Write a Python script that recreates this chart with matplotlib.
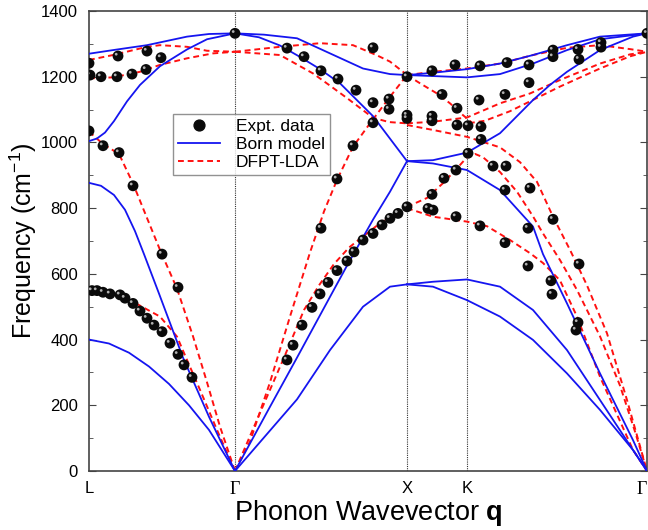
import matplotlib.pyplot as plt
from matplotlib.lines import Line2D
from matplotlib.ticker import MultipleLocator
from matplotlib.transforms import offset_copy

plt.rcParams['font.family'] = ['Liberation Sans', 'DejaVu Sans']
plt.rcParams['mathtext.fontset'] = 'custom'
plt.rcParams['mathtext.rm'] = 'Liberation Sans'
plt.rcParams['mathtext.bf'] = 'Liberation Sans:bold'

# path coordinate along L - Γ - X - K - Γ (arb. units)
sym_pos = [0, 146, 318, 378, 558]
sym_lbl = ['L', 'Γ', 'X', 'K', 'Γ']

# Born model branches: (q, frequency in cm^-1)
born_LG_TA = ([0, 20, 40, 60, 80, 100, 120, 146], [400, 388, 360, 318, 265, 200, 125, 0])
born_LG_LA = ([0, 12, 25, 36, 46, 55, 70, 94, 120, 146], [877, 868, 840, 795, 730, 660, 540, 345, 165, 0])
born_LG_TO = ([0, 8, 16, 25, 38, 51, 71, 98, 118, 146], [1004, 1012, 1030, 1065, 1125, 1175, 1232, 1283, 1314, 1332])
born_LG_LO = ([0, 24, 58, 98, 120, 146], [1270, 1281, 1296, 1322, 1330, 1332])
born_GX_LO = ([146, 175, 208, 241, 274, 301, 318], [1332, 1328, 1317, 1271, 1225, 1208, 1205])
born_GX_TO = ([146, 170, 191, 210, 230, 251, 284, 318], [1332, 1320, 1295, 1262, 1225, 1180, 1080, 943])
born_GX_LA = ([146, 180, 208, 241, 258, 284, 301, 318], [0, 190, 345, 530, 625, 765, 850, 943])
born_GX_TA = ([146, 175, 208, 241, 274, 301, 318], [0, 102, 218, 368, 500, 561, 568])
born_XG_1 = ([318, 344, 378, 411, 444, 478, 511, 558], [1205, 1212, 1223, 1240, 1266, 1296, 1322, 1332])
born_XG_2 = ([318, 344, 378, 411, 444, 478, 511, 558], [1205, 1202, 1198, 1208, 1240, 1281, 1314, 1332])
born_XG_3 = ([318, 344, 378, 411, 444, 461, 478, 511, 544, 558], [943, 946, 969, 1028, 1129, 1175, 1215, 1281, 1322, 1332])
born_XG_4 = ([318, 344, 378, 411, 444, 454, 478, 511, 544, 558], [943, 936, 916, 855, 744, 660, 510, 297, 94, 0])
born_XG_5 = ([318, 344, 378, 411, 444, 478, 511, 544, 558], [568, 576, 583, 561, 490, 368, 216, 64, 0])
born_XG_6 = ([318, 344, 378, 411, 444, 478, 511, 544, 558], [568, 561, 520, 470, 399, 297, 186, 64, 0])

# DFPT-LDA branches
dfpt_LG_LO = ([0, 24, 58, 71, 98, 118, 146], [1251, 1266, 1291, 1296, 1291, 1279, 1276])
dfpt_LG_TO = ([0, 24, 51, 71, 98, 124, 146], [1195, 1198, 1215, 1236, 1256, 1271, 1276])
dfpt_LG_LA = ([0, 14, 30, 44, 58, 71, 88, 104, 118, 131, 146], [1033, 995, 965, 875, 770, 673, 555, 410, 270, 135, 0])
dfpt_LG_TA = ([0, 21, 44, 71, 88, 98, 111, 128, 146], [543, 536, 515, 470, 409, 338, 247, 125, 0])
dfpt_GX_LO = ([146, 191, 231, 264, 288, 301, 314, 318], [1276, 1291, 1302, 1296, 1265, 1246, 1215, 1205])
dfpt_GX_TO = ([146, 191, 224, 240, 258, 284, 300, 318], [1276, 1266, 1210, 1175, 1135, 1075, 1062, 1058])
dfpt_GX_LA = ([146, 161, 181, 201, 221, 235, 248, 264, 281, 301, 318], [0, 90, 270, 470, 665, 790, 886, 987, 1058, 1139, 1205])
dfpt_GX_TA = ([146, 170, 195, 215, 230, 245, 260, 274, 291, 308, 318], [0, 170, 345, 490, 565, 630, 680, 714, 754, 784, 800])
dfpt_XG_1 = ([318, 344, 378, 411, 444, 478, 511, 541, 558], [1205, 1215, 1225, 1240, 1266, 1288, 1296, 1284, 1276])
dfpt_XG_2 = ([318, 344, 378, 411, 441, 471, 511, 541, 558], [1058, 1063, 1076, 1119, 1149, 1190, 1240, 1268, 1276])
dfpt_XG_3 = ([318, 331, 348, 361, 374, 383, 396, 421, 441, 471, 511, 541, 558],
             [1205, 1180, 1149, 1119, 1083, 1060, 1066, 1095, 1125, 1170, 1225, 1262, 1276])
dfpt_XG_4 = ([318, 344, 378, 411, 431, 448, 464, 481, 498, 518, 538, 558],
             [1053, 1038, 1017, 985, 940, 880, 774, 673, 565, 419, 216, 0])
dfpt_XG_5 = ([318, 338, 354, 368, 378, 386, 394, 411, 428, 444, 454, 471, 488, 511, 531, 546, 558],
             [804, 831, 876, 921, 955, 965, 955, 910, 850, 775, 723, 642, 551, 410, 260, 120, 0])
dfpt_XG_6 = ([318, 344, 378, 398, 421, 441, 454, 471, 488, 511, 544, 558],
             [800, 774, 759, 745, 703, 663, 633, 580, 470, 287, 64, 0])

# experimental points (q, freq)
expt_LG = [(0, 1241), (1, 1205), (12, 1200), (28, 1200), (43, 1208), (57, 1222), (58, 1278),
           (29, 1263), (72, 1258), (0, 1035), (14, 990), (30, 969), (44, 868), (73, 660), (89, 559),
           (3, 549), (8, 549), (14, 544), (21, 539), (31, 536), (36, 526), (44, 510), (51, 487),
           (58, 465), (65, 444), (73, 424), (81, 389), (89, 355), (95, 323), (103, 285), (146, 1332)]
expt_GX = [(198, 1287), (215, 1261), (232, 1218), (249, 1193), (267, 1159), (284, 1121), (284, 1060),
           (300, 1132), (300, 1101), (284, 1288), (264, 990), (248, 889), (232, 739),
           (318, 1200), (318, 1083), (318, 1073),
           (198, 338), (204, 383), (213, 444), (223, 498), (231, 539), (239, 574), (248, 610),
           (258, 639), (265, 667), (274, 703), (284, 723), (293, 749), (301, 769), (309, 784), (318, 804)]
expt_XG = [(343, 1218), (366, 1236), (391, 1233), (418, 1243), (440, 1236), (464, 1281), (464, 1261),
           (489, 1283), (490, 1253), (512, 1304), (512, 1290), (558, 1332),
           (353, 1146), (368, 1104), (390, 1129), (416, 1146), (440, 1182),
           (343, 1080), (343, 1066), (368, 1053), (379, 1051), (392, 1048), (392, 1009), (379, 967),
           (404, 928), (417, 928), (355, 891), (367, 916), (343, 842), (416, 855), (441, 861),
           (339, 799), (344, 794), (367, 774), (391, 746), (416, 695), (439, 739), (464, 766),
           (439, 624), (462, 579), (463, 538), (490, 630), (489, 452), (487, 429)]

born = [born_LG_TA, born_LG_LA, born_LG_TO, born_LG_LO, born_GX_LO, born_GX_TO, born_GX_LA,
        born_GX_TA, born_XG_1, born_XG_2, born_XG_3, born_XG_4, born_XG_5, born_XG_6]
dfpt = [dfpt_LG_LO, dfpt_LG_TO, dfpt_LG_LA, dfpt_LG_TA, dfpt_GX_LO, dfpt_GX_TO, dfpt_GX_LA,
        dfpt_GX_TA, dfpt_XG_1, dfpt_XG_2, dfpt_XG_3, dfpt_XG_4, dfpt_XG_5, dfpt_XG_6]
expt = expt_LG + expt_GX + expt_XG

fig = plt.figure(figsize=(6.48, 5.30), dpi=100)
ax = fig.add_axes([89 / 648, 1 - 471 / 530, 558 / 648, 460 / 530])

for x in sym_pos[1:4]:
    ax.axvline(x, color='#333333', lw=0.8, ls=(0, (1, 1)), zorder=1)

for q, f in dfpt:
    ax.plot(q, f, color='#ff1010', lw=1.4, dashes=(3, 2), zorder=2)
for q, f in born:
    ax.plot(q, f, color='#1515f0', lw=1.3, zorder=3)

eq = [p[0] for p in expt]
ef = [p[1] for p in expt]
ax.scatter(eq, ef, s=7.8 ** 2, color='#0a0a0a', edgecolor='none', zorder=4)
hl = offset_copy(ax.transData, fig=fig, x=-1.3, y=1.3, units='points')
ax.scatter(eq, ef, s=2.0 ** 2, color='#b0b0b0', edgecolor='none', transform=hl, zorder=5)

ax.set_xlim(0, 558)
ax.set_ylim(0, 1400)
ax.set_xticks(sym_pos)
ax.set_xticklabels(sym_lbl, fontsize=12)
xt = ax.get_xticklabels()
for t in xt:
    if t.get_text() == 'Γ':
        t.set_family('Liberation Serif')
        t.set_fontsize(13)
xt[-1].set_horizontalalignment('right')
ax.tick_params(axis='x', length=0, pad=7)
ax.yaxis.set_major_locator(MultipleLocator(200))
ax.yaxis.set_minor_locator(MultipleLocator(100))
ax.tick_params(axis='y', which='both', direction='in', left=True, right=True, labelsize=12,
               pad=8, color='#444444')
ax.tick_params(axis='y', which='major', length=5)
ax.tick_params(axis='y', which='minor', length=3)
for s in ax.spines.values():
    s.set_color('#444444')
    s.set_linewidth(1.2)

ax.set_ylabel('Frequency (cm$^{-1}$)', fontsize=18, labelpad=1)
ax.set_xlabel('Phonon Wavevector $\\mathbf{q}$', fontsize=19.5, labelpad=0)

handles = [Line2D([], [], marker='o', ls='none', color='#0a0a0a', markersize=7.8),
           Line2D([], [], color='#1515f0', lw=1.3),
           Line2D([], [], color='#ff1010', lw=1.4, dashes=(3, 2))]
leg = ax.legend(handles, ['Expt. data', 'Born model', 'DFPT-LDA'], loc='upper left',
                bbox_to_anchor=(0.151, 0.776), fontsize=12.5, frameon=True, fancybox=False,
                handlelength=2.4, handletextpad=0.9, borderpad=0.3, labelspacing=0.15,
                borderaxespad=0)
leg.get_frame().set_edgecolor('#777777')
leg.get_frame().set_linewidth(1.0)

fig.savefig('out.png', dpi=100)
